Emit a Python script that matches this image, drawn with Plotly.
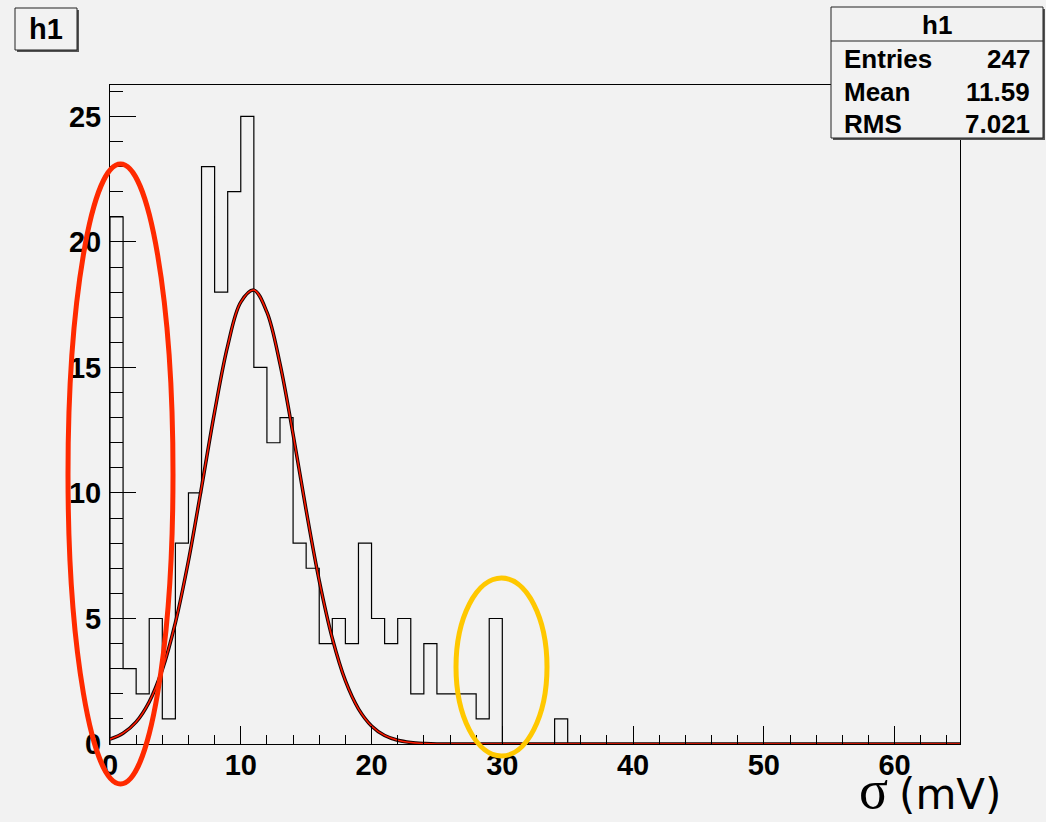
import plotly.graph_objects as go

# ---------------- data ----------------
bin_edges_start = 0
bin_width = 1
counts = [21, 3, 2, 5, 1, 8, 10, 23, 18, 22,
          25, 15, 12, 13, 8, 7, 4, 5, 4, 8,
          5, 4, 5, 2, 4, 2, 2, 2, 1, 5,
          0, 0, 0, 0, 1, 0, 0, 0, 0, 0,
          0, 0, 0, 0, 0, 0, 0, 0, 0, 0,
          0, 0, 0, 0, 0, 0, 0, 0, 0, 0,
          0, 0, 0, 0, 0]

fit_x = [0, 1, 2, 3, 4, 5, 6, 7, 8, 9, 10, 11, 12, 13, 14, 15, 16, 17,
         18, 19, 20, 21, 22, 23, 24, 25, 65]
fit_y = [0.19, 0.43, 0.88, 1.68, 2.96, 4.83, 7.30, 10.22, 13.23, 15.86,
         17.60, 18.08, 17.20, 15.14, 12.34, 9.31, 6.51, 4.21, 2.52, 1.40,
         0.72, 0.34, 0.15, 0.06, 0.02, 0.0, 0.0]

stats_labels = ["Entries", "Mean", "RMS"]
stats_values = ["247", "11.59", "7.021"]
hist_name = "h1"

x_ticks = [0, 10, 20, 30, 40, 50, 60]
y_ticks = [0, 5, 10, 15, 20, 25]

# ---------------- layout geometry ----------------
W, H = 1046, 822
L, R, T, B = 110, 960, 85, 744
BG = "#f2f2f2"


def px(x):
    return (x - L) / (R - L)


def py(y):
    return (B - y) / (B - T)


xs = [bin_edges_start + i * bin_width for i in range(len(counts) + 1)]
step_x = [xs[0]] + xs
step_y = [0] + counts + [counts[-1]]

fig = go.Figure()
fig.add_trace(go.Scatter(x=step_x, y=step_y, mode="lines",
                         line=dict(color="black", width=1.2, shape="hv"),
                         hoverinfo="skip", showlegend=False))
fig.add_trace(go.Scatter(x=fit_x, y=fit_y, mode="lines",
                         line=dict(color="#1a0000", width=3.5, shape="spline"),
                         hoverinfo="skip", showlegend=False))
fig.add_trace(go.Scatter(x=fit_x, y=fit_y, mode="lines",
                         line=dict(color="#ff1a00", width=1.5, shape="spline"),
                         hoverinfo="skip", showlegend=False))

tickfont = dict(family="Liberation Sans, Arial, sans-serif", size=29,
                color="black", weight="bold")

fig.update_layout(
    width=W, height=H,
    margin=dict(l=L, r=W - R, t=T, b=H - B, pad=0),
    paper_bgcolor=BG, plot_bgcolor=BG,
    showlegend=False,
    xaxis=dict(range=[0, 65], tickvals=x_ticks, ticks="inside", ticklen=18,
               tickcolor="black", tickwidth=1, showgrid=False, zeroline=False,
               showline=True, linecolor="black", linewidth=1, mirror=True,
               tickfont=tickfont, ticklabelstandoff=-5,
               minor=dict(dtick=2, ticks="inside", ticklen=9,
                          tickcolor="black", showgrid=False)),
    yaxis=dict(range=[0, 26.25], tickvals=y_ticks, ticks="inside", ticklen=26,
               tickcolor="black", tickwidth=1, showgrid=False, zeroline=False,
               showline=True, linecolor="black", linewidth=1, mirror=True,
               tickfont=tickfont, ticklabelstandoff=2,
               minor=dict(dtick=1, ticks="inside", ticklen=13,
                          tickcolor="black", showgrid=False)),
)

shapes = []
# title box with shadow
shapes.append(dict(type="rect", xref="paper", yref="paper",
                   x0=px(17), x1=px(79), y0=py(10), y1=py(52),
                   fillcolor="#555", line=dict(width=0), layer="above"))
shapes.append(dict(type="rect", xref="paper", yref="paper",
                   x0=px(15), x1=px(77), y0=py(8), y1=py(50),
                   fillcolor=BG, line=dict(color="#222", width=1), layer="above"))
# stats box with shadow
shapes.append(dict(type="rect", xref="paper", yref="paper",
                   x0=px(833), x1=px(1045), y0=py(9), y1=py(140),
                   fillcolor="#555", line=dict(width=0), layer="above"))
shapes.append(dict(type="rect", xref="paper", yref="paper",
                   x0=px(831), x1=px(1043), y0=py(7), y1=py(138),
                   fillcolor=BG, line=dict(color="#222", width=1), layer="above"))
shapes.append(dict(type="line", xref="paper", yref="paper",
                   x0=px(831), x1=px(1043), y0=py(41), y1=py(41),
                   line=dict(color="#222", width=1), layer="above"))
# hand-drawn highlight ellipses
shapes.append(dict(type="circle", xref="paper", yref="paper",
                   x0=px(68), x1=px(173), y0=py(164), y1=py(784),
                   line=dict(color="#ff2a00", width=5), layer="above"))
shapes.append(dict(type="circle", xref="paper", yref="paper",
                   x0=px(456), x1=px(547), y0=py(578), y1=py(756),
                   line=dict(color="#ffc800", width=5), layer="above"))
fig.update_layout(shapes=shapes)

bold26 = dict(family="Liberation Sans, Arial, sans-serif", size=26,
              color="black", weight="bold")
bold29 = dict(family="Liberation Sans, Arial, sans-serif", size=29,
              color="black", weight="bold")
ann = []
ann.append(dict(text=hist_name, xref="paper", yref="paper", x=px(46), y=py(29),
                xanchor="center", yanchor="middle", showarrow=False, font=bold29))
ann.append(dict(text=hist_name, xref="paper", yref="paper", x=px(937), y=py(25),
                xanchor="center", yanchor="middle", showarrow=False, font=bold26))
row_y = [59, 92, 124]
for lab, val, yy in zip(stats_labels, stats_values, row_y):
    ann.append(dict(text=lab, xref="paper", yref="paper", x=px(842), y=py(yy),
                    xanchor="left", yanchor="middle", showarrow=False, font=bold26))
    ann.append(dict(text=val, xref="paper", yref="paper", x=px(1032), y=py(yy),
                    xanchor="right", yanchor="middle", showarrow=False, font=bold26))
# axis title: sigma (serif) + (mV)
ann.append(dict(text="σ", xref="paper", yref="paper", x=px(873), y=py(790),
                xanchor="center", yanchor="middle", showarrow=False,
                height=40,
                font=dict(family="Liberation Serif, Times New Roman, serif",
                          size=54, color="black")))
ann.append(dict(text="(mV)", xref="paper", yref="paper", x=px(1003), y=py(794),
                xanchor="right", yanchor="middle", showarrow=False,
                height=44,
                font=dict(family="DejaVu Sans, Verdana, sans-serif", size=42,
                          color="black")))
fig.update_layout(annotations=ann)

fig.write_html("out.html")
